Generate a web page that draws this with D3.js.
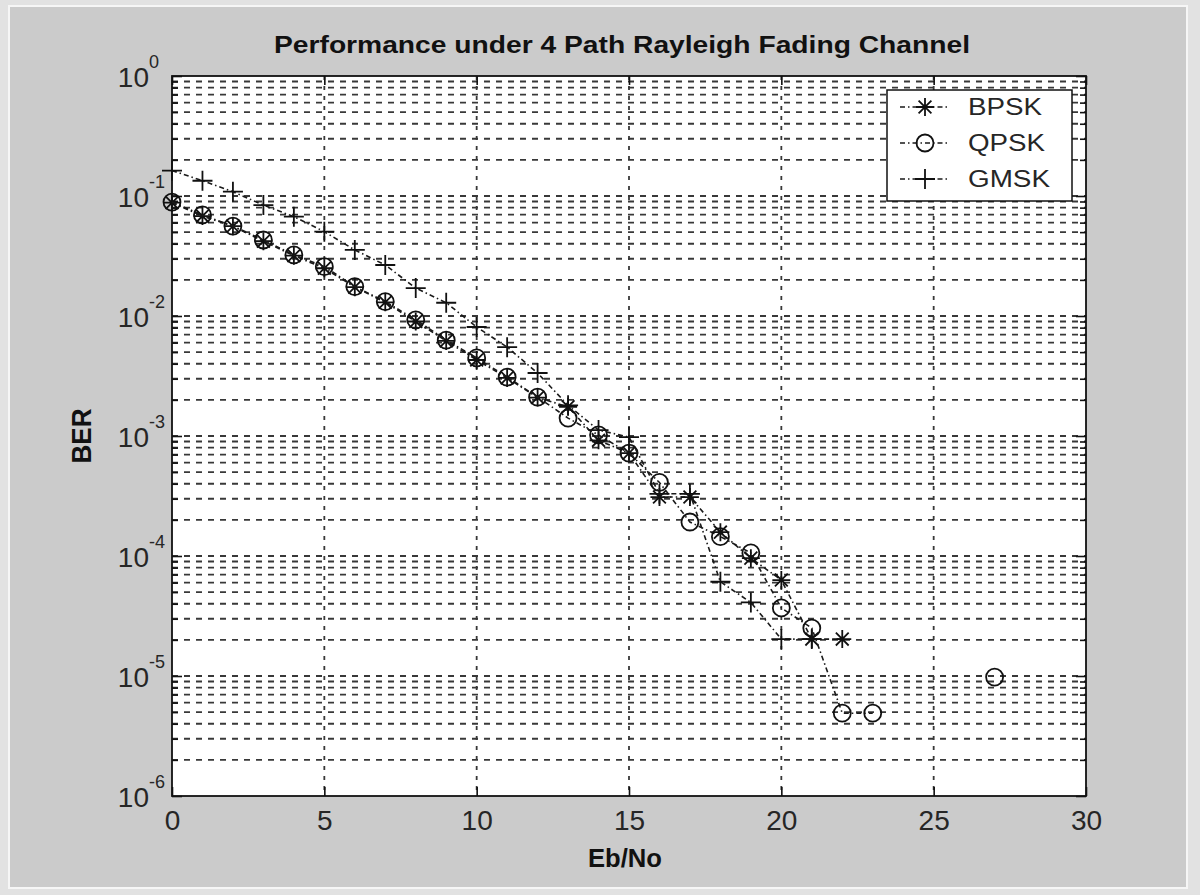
<!DOCTYPE html>
<html>
<head>
<meta charset="utf-8">
<script src="https://cdn.jsdelivr.net/npm/d3@7"></script>
<style>
body{margin:0;background:#dcdcdc;}
</style>
</head>
<body>
<div id="grafica"></div>
<script>
// BER vs Eb/No, 4 path Rayleigh fading

const ebnoBpsk = [0,1,2,3,4,5,6,7,8,9,10,11,12,13,14,15,16,17,18,19,20,21,22]
const bpsk = [0.088,0.068,0.056,0.042,0.0318,0.025,0.0174,0.013,0.0090,0.0062,0.0043,0.00305,0.00209,0.00175,0.00092,0.00072,0.00031,0.00031,0.000158,0.000096,0.000063,0.0000203,0.0000203]

const ebnoQpsk = [0,1,2,3,4,5,6,7,8,9,10,11,12,13,14,15,16,17,18,19,20,21,22,23,24,25,26,27]
const qpsk = [0.089,0.0695,0.0562,0.043,0.0323,0.0258,0.0176,0.0132,0.0093,0.0063,0.00447,0.0031,0.00211,0.00141,0.00102,0.00072,0.00041,0.000192,0.000145,0.000106,0.0000369,0.0000251,0.0000049,0.0000049,null,null,null,0.0000098]

const ebnoGmsk = [0,1,2,3,4,5,6,7,8,9,10,11,12,13,14,15,16,17,18,19,20,21]
const gmsk = [0.163,0.134,0.1086,0.084,0.0673,0.0504,0.0355,0.0266,0.0171,0.0129,0.0081,0.0055,0.00335,0.0018,0.00112,0.00098,0.00033,0.00033,0.000061,0.000041,0.0000203,0.0000203]

const xTicks = [0,5,10,15,20,25,30]
const yExponents = [0,-1,-2,-3,-4,-5,-6]
const legendLabels = ["BPSK","QPSK","GMSK"]
const legendWidths = [74,77,82]

const width = 1200
const height = 895
const plotLeft = 172, plotRight = 1086, plotTop = 76, plotBottom = 796

const svg = d3.select('#grafica')
    .append("svg")
    .attr("width", width)
    .attr("height", height)

// figure background
svg.append("rect").attr("width", width).attr("height", height).attr("fill", "#e2e2e2")
svg.append("rect")
    .attr("x", 9).attr("y", 6)
    .attr("width", 1178).attr("height", 882)
    .attr("fill", "#cbcbcb")
    .attr("stroke", "#f6f6f6").attr("stroke-width", 2)

const xScale = d3.scaleLinear().domain([0, 30]).range([plotLeft, plotRight])
const yScale = d3.scaleLog().domain([1e-6, 1]).range([plotBottom, plotTop])

// axes area
svg.append("rect")
    .attr("x", plotLeft).attr("y", plotTop)
    .attr("width", plotRight - plotLeft).attr("height", plotBottom - plotTop)
    .attr("fill", "#ffffff")

// grid
const allY = yScale.ticks().filter(d => d > 1e-6 && d < 1)
svg.append("g").selectAll("line")
    .data(allY)
    .enter()
    .append("line")
    .attr("x1", plotLeft).attr("x2", plotRight)
    .attr("y1", d => yScale(d)).attr("y2", d => yScale(d))
    .attr("stroke", "#383838")
    .attr("stroke-width", 1.8)
    .attr("stroke-dasharray", "6,6")

svg.append("g").selectAll("line")
    .data(xTicks.slice(1, -1))
    .enter()
    .append("line")
    .attr("x1", d => xScale(d)).attr("x2", d => xScale(d))
    .attr("y1", plotTop).attr("y2", plotBottom)
    .attr("stroke", "#383838")
    .attr("stroke-width", 1.8)
    .attr("stroke-dasharray", "4,6")

// axes, ticks pointing inside
const majorY = yExponents.map(e => Math.pow(10, e))
const minorY = allY.filter(d => !majorY.some(m => Math.abs(m - d) / d < 1e-9))

const xAxis = svg.append("g")
    .attr("transform", "translate(0," + plotBottom + ")")
    .call(d3.axisBottom(xScale).tickValues(xTicks).tickSizeInner(-9).tickSizeOuter(0).tickPadding(14))
xAxis.selectAll("text")
    .attr("font-family", "Liberation Sans, Arial, sans-serif")
    .attr("font-size", 28)
    .attr("fill", "#262626")

svg.append("g")
    .attr("transform", "translate(0," + plotTop + ")")
    .call(d3.axisTop(xScale).tickValues(xTicks).tickSizeInner(-9).tickSizeOuter(0).tickFormat(""))

svg.append("g")
    .attr("transform", "translate(" + plotLeft + ",0)")
    .call(d3.axisLeft(yScale).tickValues(majorY).tickSizeInner(-10).tickSizeOuter(0).tickFormat(""))
svg.append("g")
    .attr("transform", "translate(" + plotLeft + ",0)")
    .call(d3.axisLeft(yScale).tickValues(minorY).tickSizeInner(-6).tickSizeOuter(0).tickFormat(""))
svg.append("g")
    .attr("transform", "translate(" + plotRight + ",0)")
    .call(d3.axisRight(yScale).tickValues(majorY).tickSizeInner(-10).tickSizeOuter(0).tickFormat(""))
svg.append("g")
    .attr("transform", "translate(" + plotRight + ",0)")
    .call(d3.axisRight(yScale).tickValues(minorY).tickSizeInner(-6).tickSizeOuter(0).tickFormat(""))

svg.selectAll(".domain").remove()
svg.selectAll(".tick line").attr("stroke", "#111").attr("stroke-width", 1.6)

// y tick labels 10^n
const yLab = svg.append("g")
    .attr("font-family", "Liberation Sans, Arial, sans-serif")
    .attr("fill", "#262626")
yLab.selectAll("text.base")
    .data(yExponents)
    .enter()
    .append("text")
    .attr("class", "base")
    .attr("x", 149)
    .attr("y", e => yScale(Math.pow(10, e)) + 11)
    .attr("text-anchor", "end")
    .attr("font-size", 28)
    .text("10")
yLab.selectAll("text.exp")
    .data(yExponents)
    .enter()
    .append("text")
    .attr("class", "exp")
    .attr("x", 149)
    .attr("y", e => yScale(Math.pow(10, e)) - 8)
    .attr("font-size", 18)
    .text(e => e == 0 ? "0" : "-" + Math.abs(e))

// plot frame
svg.append("rect")
    .attr("x", plotLeft).attr("y", plotTop)
    .attr("width", plotRight - plotLeft).attr("height", plotBottom - plotTop)
    .attr("fill", "none")
    .attr("stroke", "#111")
    .attr("stroke-width", 1.8)

// series
const series = [
    {name: "BPSK", xs: ebnoBpsk, ys: bpsk, marker: "star"},
    {name: "QPSK", xs: ebnoQpsk, ys: qpsk, marker: "circle"},
    {name: "GMSK", xs: ebnoGmsk, ys: gmsk, marker: "plus"}
]

const line = d3.line()
    .defined(d => d[1] != null)
    .x(d => xScale(d[0]))
    .y(d => yScale(d[1]))

function markerPath(type) {
    if (type == "star") {
        let r = 9, a = 6.4
        return "M" + (-r) + ",0L" + r + ",0M0," + (-r) + "L0," + r +
            "M" + (-a) + "," + (-a) + "L" + a + "," + a + "M" + (-a) + "," + a + "L" + a + "," + (-a)
    }
    if (type == "plus") {
        let r = 10
        return "M" + (-r) + ",0L" + r + ",0M0," + (-r) + "L0," + r
    }
    return null
}

function drawMarker(g, type, cx, cy) {
    if (type == "circle") {
        g.append("circle")
            .attr("cx", cx).attr("cy", cy).attr("r", 8.5)
            .attr("fill", "none").attr("stroke", "#111").attr("stroke-width", 1.8)
    } else {
        g.append("path")
            .attr("d", markerPath(type))
            .attr("transform", "translate(" + cx + "," + cy + ")")
            .attr("fill", "none").attr("stroke", "#111").attr("stroke-width", 1.8)
    }
}

series.forEach(s => {
    let pts = s.xs.map((v, i) => [v, s.ys[i]])
    svg.append("path")
        .datum(pts)
        .attr("d", line)
        .attr("fill", "none")
        .attr("stroke", "#1a1a1a")
        .attr("stroke-width", 1.6)
        .attr("stroke-dasharray", "5,3,1.5,3")
    let g = svg.append("g")
    pts.filter(d => d[1] != null).forEach(d => drawMarker(g, s.marker, xScale(d[0]), yScale(d[1])))
})

// legend
const legend = svg.append("g")
legend.append("rect")
    .attr("x", 887).attr("y", 90)
    .attr("width", 185).attr("height", 111)
    .attr("fill", "#ffffff")
    .attr("stroke", "#111")
    .attr("stroke-width", 1.5)

series.forEach((s, i) => {
    let ly = 107 + i * 36
    legend.append("line")
        .attr("x1", 900).attr("x2", 948)
        .attr("y1", ly).attr("y2", ly)
        .attr("stroke", "#1a1a1a")
        .attr("stroke-width", 1.6)
        .attr("stroke-dasharray", "5,3,1.5,3")
    drawMarker(legend, s.marker, 925, ly)
    legend.append("text")
        .attr("x", 968).attr("y", ly + 8)
        .attr("font-family", "Liberation Sans, Arial, sans-serif")
        .attr("font-size", 23)
        .attr("fill", "#262626")
        .attr("textLength", legendWidths[i])
        .attr("lengthAdjust", "spacingAndGlyphs")
        .text(legendLabels[i])
})

// title and axis labels
svg.append("text")
    .attr("x", 622).attr("y", 53)
    .attr("text-anchor", "middle")
    .attr("font-family", "Liberation Sans, Arial, sans-serif")
    .attr("font-weight", "bold")
    .attr("font-size", 23)
    .attr("fill", "#111")
    .attr("textLength", 696)
    .attr("lengthAdjust", "spacingAndGlyphs")
    .text("Performance under 4 Path Rayleigh Fading Channel")

svg.append("text")
    .attr("x", 625).attr("y", 867)
    .attr("text-anchor", "middle")
    .attr("font-family", "Liberation Sans, Arial, sans-serif")
    .attr("font-weight", "bold")
    .attr("font-size", 26)
    .attr("fill", "#111")
    .attr("textLength", 74)
    .attr("lengthAdjust", "spacingAndGlyphs")
    .text("Eb/No")

svg.append("text")
    .attr("transform", "translate(91,436) rotate(-90)")
    .attr("text-anchor", "middle")
    .attr("font-family", "Liberation Sans, Arial, sans-serif")
    .attr("font-weight", "bold")
    .attr("font-size", 28)
    .attr("fill", "#111")
    .attr("textLength", 55)
    .attr("lengthAdjust", "spacingAndGlyphs")
    .text("BER")
</script>
</body>
</html>
